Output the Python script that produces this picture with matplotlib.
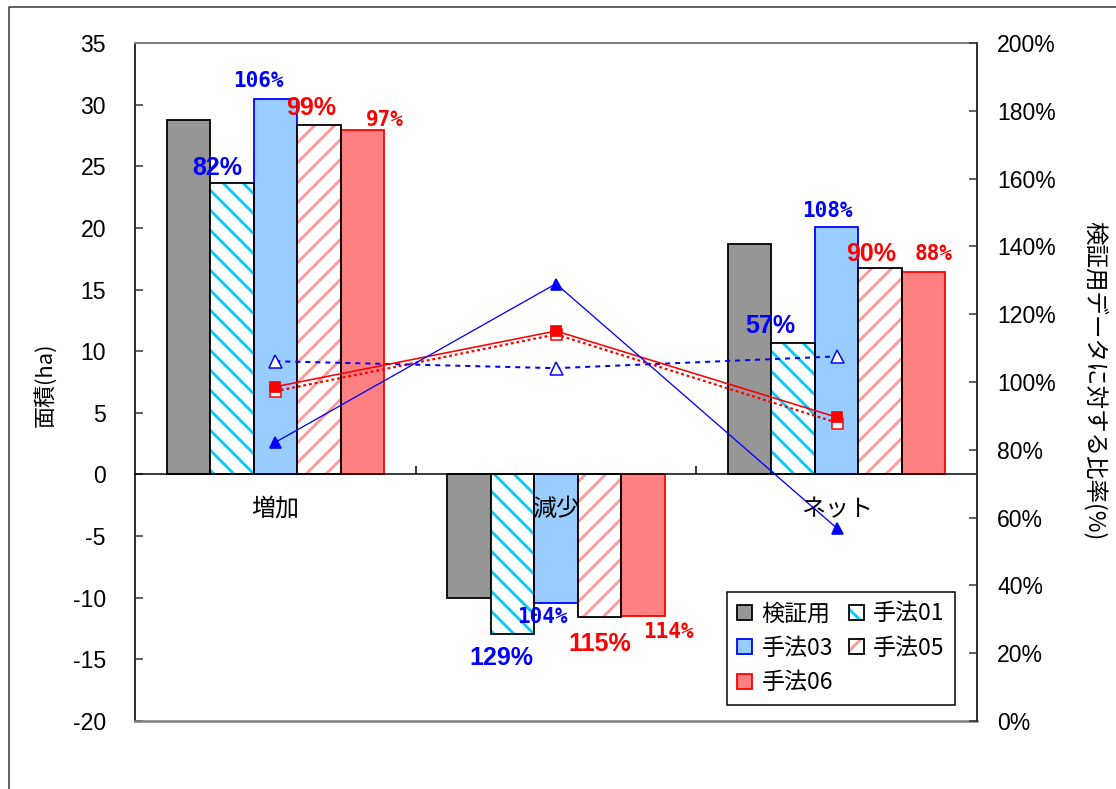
import numpy as np
import matplotlib
matplotlib.use("Agg")
import matplotlib.pyplot as plt
from matplotlib.patches import Patch
from matplotlib.lines import Line2D

# ---------------- data ----------------
categories = ["増加", "減少", "ネット"]
series_names = ["検証用", "手法01", "手法03", "手法05", "手法06"]
kensho = [28.73, -10.04, 18.69]
method01 = [23.62, -12.95, 10.64]
method03 = [30.49, -10.45, 20.10]
method05 = [28.33, -11.55, 16.75]
method06 = [27.95, -11.45, 16.45]
left_ticks = [-20, -15, -10, -5, 0, 5, 10, 15, 20, 25, 30, 35]
right_ticks = [0, 20, 40, 60, 80, 100, 120, 140, 160, 180, 200]
left_label = "面積(ha)"
right_label = "検証用データに対する比率(%)"

# ---------------- style ----------------
DPI = 120
W, H = 1116, 789


def pt(px):
    return px * 72.0 / DPI


plt.rcParams['font.family'] = ['Noto Sans CJK JP', 'DejaVu Sans']
plt.rcParams['hatch.linewidth'] = pt(2.8)
plt.rcParams['axes.unicode_minus'] = False

fig = plt.figure(figsize=(W / DPI, H / DPI), dpi=DPI)
L, R, T, B = 135, 977, 43, 721
ax = fig.add_axes([L / W, 1 - B / H, (R - L) / W, (B - T) / H])

x = np.arange(len(categories))
bw = 0.155
cyan = "#00CCFF"
pink = "#FF9999"
bar_styles = {
    "検証用": dict(face="#969696", edge="black", hatch=None, hcol=None),
    "手法01": dict(face="white", edge="black", hatch="\\\\", hcol=cyan),
    "手法03": dict(face="#99CCFF", edge="#0000FF", hatch=None, hcol=None),
    "手法05": dict(face="white", edge="black", hatch="//", hcol=pink),
    "手法06": dict(face="#FF8080", edge="#FF0000", hatch=None, hcol=None),
}
series_values = [kensho, method01, method03, method05, method06]
edge_lw = pt(1.8)

handles = {}
for j, (name, vals) in enumerate(zip(series_names, series_values)):
    st = bar_styles[name]
    xs = x + (j - 2) * bw
    if st["hatch"]:
        ax.bar(xs, vals, bw, color="white", edgecolor=st["hcol"],
               hatch=st["hatch"], linewidth=0, zorder=2)
        ax.bar(xs, vals, bw, fill=False, edgecolor=st["edge"],
               linewidth=edge_lw, zorder=2.1)
        handles[name] = (Patch(facecolor="white", edgecolor=st["hcol"],
                               hatch=st["hatch"], linewidth=0),
                         Patch(fill=False, edgecolor=st["edge"], linewidth=edge_lw))
    else:
        ax.bar(xs, vals, bw, color=st["face"], edgecolor=st["edge"],
               linewidth=edge_lw, zorder=2)
        handles[name] = Patch(facecolor=st["face"], edgecolor=st["edge"],
                              linewidth=edge_lw)

ax.set_xlim(-0.5, 2.5)
ax.set_ylim(-20, 35)
ax.set_yticks(left_ticks, labels=[str(t) for t in left_ticks],
              fontsize=pt(23), family="Liberation Sans")
ax.set_xticks([0.5, 1.5])
ax.tick_params(axis="x", direction="in", length=pt(8), width=pt(1.5),
               labelbottom=False, color="black")
ax.tick_params(axis="y", direction="in", length=pt(8), width=pt(1.5),
               pad=pt(29), color="#333333")
ax.spines["bottom"].set_position(("data", 0))
ax.spines["bottom"].set_color("black")
ax.spines["bottom"].set_linewidth(pt(1.5))
ax.spines["left"].set_color("#333333")
ax.spines["left"].set_linewidth(pt(2))
ax.spines["top"].set_color("#808080")
ax.spines["top"].set_linewidth(pt(2))
ax.spines["right"].set_visible(False)
ax.add_line(Line2D([0, 1], [0, 0], transform=ax.transAxes, color="#808080",
                   lw=pt(2.5), clip_on=False, zorder=5))

# category labels at the zero line
for i, c in enumerate(categories):
    ax.annotate(c, xy=(x[i], 0), xytext=(0, -35), textcoords="offset pixels",
                ha="center", va="center", fontsize=pt(24), zorder=6,
                annotation_clip=False)

# ratio lines
k = np.array(kensho)
r01 = np.array(method01) / k * 100
r03 = np.array(method03) / k * 100
r05 = np.array(method05) / k * 100
r06 = np.array(method06) / k * 100

ax2 = ax.twinx()
ax2.set_ylim(0, 200)
ax2.set_yticks(right_ticks, labels=[f"{t}%" for t in right_ticks],
               fontsize=pt(23), family="Liberation Sans")
ax2.tick_params(axis="y", direction="in", length=pt(8), width=pt(1.5),
                pad=pt(20), color="#333333")
for s in ["left", "top", "bottom"]:
    ax2.spines[s].set_visible(False)
ax2.spines["right"].set_color("#333333")
ax2.spines["right"].set_linewidth(pt(2))

red, blue = "#FF0000", "#0000FF"
ax2.plot(x, r06, color=red, ls=(0, (1.3, 1.3)), lw=pt(2.2), marker="s",
         ms=pt(11), mfc="white", mec=red, mew=pt(1.5), zorder=3)
ax2.plot(x, r05, color=red, lw=pt(1.6), marker="s", ms=pt(10),
         mfc=red, mec=red, zorder=3.1)
ax2.plot(x, r03, color=blue, ls=(0, (2.5, 2.5)), lw=pt(2), marker="^",
         ms=pt(13), mfc="white", mec=blue, mew=pt(1.5), zorder=3)
ax2.plot(x, r01, color=blue, lw=pt(1.3), marker="^", ms=pt(11),
         mfc=blue, mec=blue, zorder=3.2)

# percentage labels (pixel offsets: dx, distance away from zero)
label_specs = [
    (method01, r01, 1, blue, dict(family="Liberation Sans", size=pt(25)),
     [(-15, 15), (-11, 24), (-23, 17)]),
    (method03, r03, 2, blue, dict(family="DejaVu Sans Mono", size=pt(21)),
     [(-17, 18), (-14, 14), (-9, 16)]),
    (method05, r05, 3, red, dict(family="Liberation Sans", size=pt(25)),
     [(-8, 17), (0, 27), (-9, 14)]),
    (method06, r06, 4, red, dict(family="DejaVu Sans Mono", size=pt(21)),
     [(22, 10), (25, 16), (10, 18)]),
]
for vals, ratios, j, col, font, offs in label_specs:
    for i in range(len(categories)):
        v = vals[i]
        dx, dy = offs[i]
        sgn = 1 if v >= 0 else -1
        ax.annotate(f"{ratios[i]:.0f}%", xy=(x[i] + (j - 2) * bw, v),
                    xytext=(dx, sgn * dy), textcoords="offset pixels",
                    ha="center", va="center", color=col, fontweight="bold",
                    fontfamily=font["family"], fontsize=font["size"], zorder=7,
                    annotation_clip=False)

# legend
order = ["検証用", "手法03", "手法06", "手法01", "手法05"]
leg = ax2.legend([handles[n] for n in order], order, ncol=2, loc="upper left",
                 bbox_to_anchor=(727 / W, 1 - 592 / H), bbox_transform=fig.transFigure,
                 frameon=True, fancybox=False, edgecolor="black", framealpha=1,
                 borderaxespad=0, handlelength=0.65, handleheight=0.65,
                 handletextpad=0.4, columnspacing=0.7, labelspacing=0.5,
                 borderpad=0.45, prop=dict(family=["Noto Sans CJK JP"], size=pt(23)))
leg.get_frame().set_linewidth(pt(1.5))
leg.set_zorder(10)

# axis titles
fig.text(45 / W, 1 - 385 / H, left_label, rotation=90, ha="center", va="center",
         fontsize=pt(22))
fig.text(1094 / W, 1 - 381 / H, right_label, rotation=270, ha="center",
         va="center", fontsize=pt(23.5))

# outer chart border (left and top visible)
fig.add_artist(Line2D([9 / W, 9 / W, 1.0], [0.0, 1 - 7 / H, 1 - 7 / H],
                      transform=fig.transFigure, color="#333333", lw=pt(1.5)))

fig.savefig("out.png", dpi=DPI)
